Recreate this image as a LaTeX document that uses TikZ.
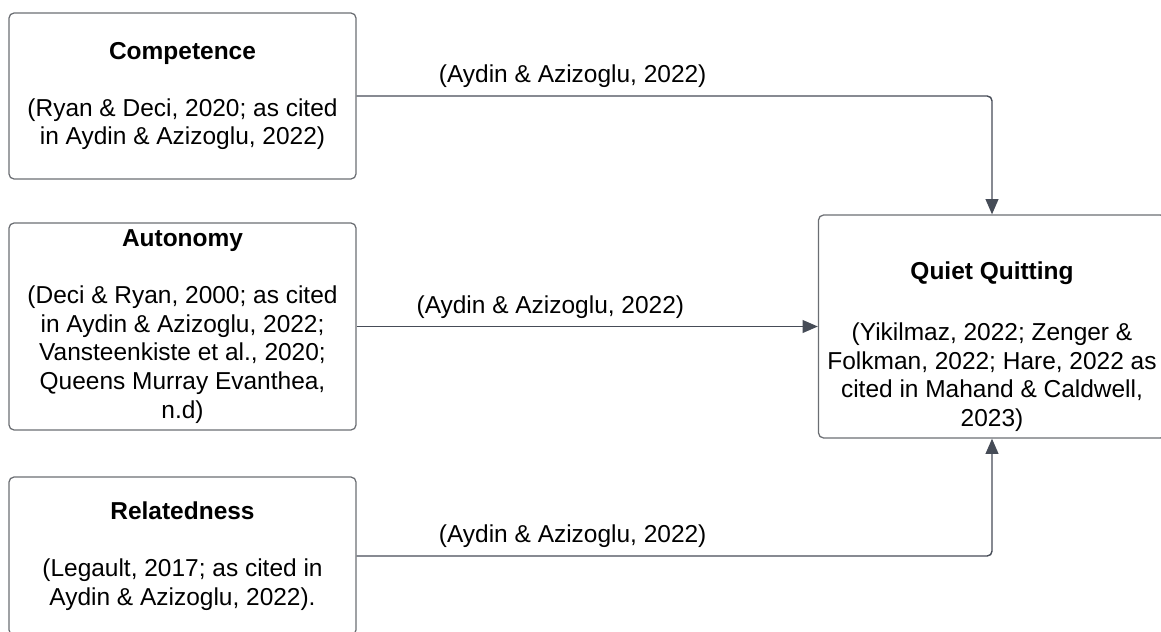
\documentclass[tikz,border=0pt]{standalone}
\usepackage{fontspec}
\setmainfont{Liberation Sans}
\usepackage{xcolor}
\usetikzlibrary{arrows.meta, positioning, calc}
\definecolor{boxline}{HTML}{6B6E73}
\definecolor{arrowline}{HTML}{464C57}
\tikzset{
    box/.style={
        draw=boxline,
        line width=0.9pt,
        rounded corners=0.13cm,
        minimum width=8.675cm,
        align=center,
        inner sep=0pt,
        text=black,
    },
    boxtext/.style={
        align=center,
        inner sep=0pt,
        text=black,
    },
    link/.style={
        draw=arrowline,
        line width=1pt,
        rounded corners=0.12cm,
        -{Triangle[length=0.38cm, width=0.32cm]},
    },
    cite/.style={
        above=2pt,
        text=black,
    },
}

\begin{document}
\begin{tikzpicture}[x=0.025cm, y=-0.025cm, font=\fontsize{17.4}{20.3}\selectfont]
      \useasboundingbox (0,0) rectangle (1161,631);

      \node[box, minimum height=4.15cm] (comp) at (182.5,96)
        {\textbf{Competence}\\[\baselineskip](Ryan \& Deci, 2020; as cited\\in Aydin \& Azizoglu, 2022)};

      \node[box, minimum height=5.175cm] (aut) at (182.5,326.5)
        {\textbf{Autonomy}\\[\baselineskip](Deci \& Ryan, 2000; as cited\\in Aydin \& Azizoglu, 2022;\\Vansteenkiste et al., 2020;\\Queens Murray Evanthea,\\n.d)};

      \node[box, minimum height=3.95cm] (rel) at (182.5,556)
        {\textbf{Relatedness}\\[\baselineskip](Legault, 2017; as cited in\\Aydin \& Azizoglu, 2022).};

      \node[box, minimum height=5.575cm] (qq) at (992,326.5) {};
      \node[boxtext] (qqtext) at ([yshift=-0.5cm]qq.center)
        {\textbf{Quiet Quitting}\\[1.15\baselineskip](Yikilmaz, 2022; Zenger \&\\Folkman, 2022; Hare, 2022 as\\cited in Mahand \& Caldwell,\\2023)};

      \draw[link] (comp.east) -| node[cite, pos=0.17]{(Aydin \& Azizoglu, 2022)} (qq.north);
      \draw[link] (aut.east) -- node[cite, pos=0.42]{(Aydin \& Azizoglu, 2022)} (qq.west);
      \draw[link] (rel.east) -| node[cite, pos=0.17]{(Aydin \& Azizoglu, 2022)} (qq.south);

    \end{tikzpicture}
\end{document}
